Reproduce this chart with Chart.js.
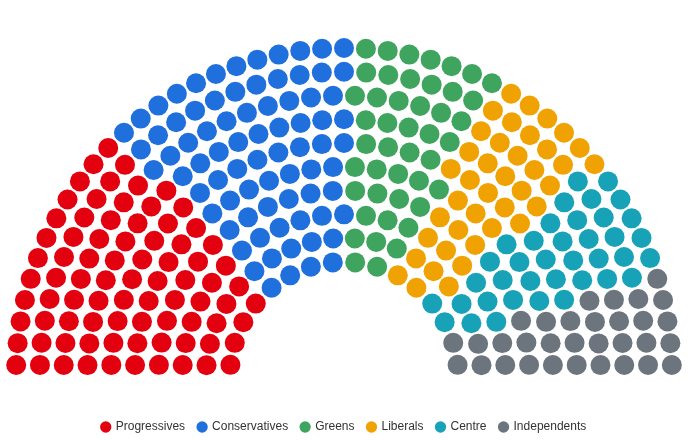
<!DOCTYPE html>
<html>
<head>
<meta charset="utf-8">
<title>Seat distribution</title>
<script src="https://cdn.jsdelivr.net/npm/chart.js@4.4.1/dist/chart.umd.min.js"></script>
<style>
    html, body { margin: 0; padding: 0; background: #fff; }
    #wrap { width: 688px; height: 440px; }
</style>
</head>
<body>
<div id="wrap"><canvas id="seatChart"></canvas></div>
<script>
const parties = ['Progressives', 'Conservatives', 'Greens', 'Liberals', 'Centre', 'Independents'];
const seats = [82, 78, 45, 40, 38, 32];
const colors = ['#e3000f', '#1f6fdc', '#3fa45e', '#f0a202', '#17a2b8', '#6c757d'];

// hemicycle layout
const rowCount = 10;
const innerRadius = 0.348; // outer radius is 1

function buildSeats() {
    const total = seats.reduce((a, b) => a + b, 0);
    const radii = [];
    for (let i = 0; i < rowCount; i++) {
        radii.push(innerRadius + i * (1 - innerRadius) / (rowCount - 1));
    }
    const sumR = radii.reduce((a, b) => a + b, 0);
    const perRow = radii.map(r => Math.round(total * r / sumR));
    const diff = total - perRow.reduce((a, b) => a + b, 0);
    perRow[rowCount - 1] += diff;

    const all = [];
    radii.forEach((r, i) => {
        const n = perRow[i];
        for (let k = 0; k < n; k++) {
            const a = (k + 0.5) * Math.PI / n;
            all.push({ a: a, r: r, x: -r * Math.cos(a), y: r * Math.sin(a) });
        }
    });
    // seats go to parties from left to right by angle
    all.sort((p, q) => (p.a - q.a) || (p.r - q.r));

    const out = [];
    let idx = 0;
    seats.forEach(count => {
        out.push(all.slice(idx, idx + count).map(s => ({ x: s.x, y: s.y })));
        idx += count;
    });
    return out;
}

const seatPoints = buildSeats();
const ctx = document.getElementById('seatChart').getContext('2d');

new Chart(ctx, {
    type: 'scatter',
    data: {
        datasets: parties.map((name, i) => ({
            label: name,
            data: seatPoints[i],
            backgroundColor: colors[i],
            borderColor: colors[i],
            borderWidth: 0,
            pointRadius: 10,
            pointHoverRadius: 11,
            pointStyle: 'circle'
        }))
    },
    options: {
        responsive: true,
        maintainAspectRatio: false,
        animation: false,
        layout: { padding: { top: 0, left: 0, right: 0, bottom: -3 }, autoPadding: false },
        scales: {
            x: { display: false, min: -1.04878, max: 1.04878 },
            y: { display: false, min: -0.09756, max: 1.14634 }
        },
        plugins: {
            legend: {
                position: 'bottom',
                labels: {
                    usePointStyle: true,
                    boxWidth: 8,
                    boxHeight: 8,
                    padding: 13,
                    color: '#333',
                    font: { size: 12 }
                }
            },
            tooltip: {
                callbacks: {
                    label: function(context) {
                        return context.dataset.label + ': ' + seats[context.datasetIndex] + ' seats';
                    }
                }
            }
        }
    }
});
</script>
</body>
</html>
